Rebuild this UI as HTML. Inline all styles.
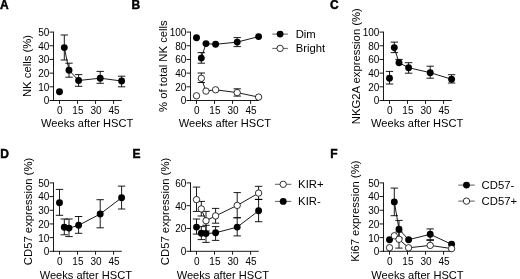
<!DOCTYPE html>
<html><head><meta charset="utf-8"><title>Figure</title>
<style>
html,body{margin:0;padding:0;background:#fff;}
svg{display:block;}
svg text{font-family:"Liberation Sans", Arial, sans-serif;fill:#000;}
</style></head>
<body>
<svg width="520" height="279" viewBox="0 0 520 279">
<defs><filter id="soft" x="0" y="0" width="520" height="279" filterUnits="userSpaceOnUse"><feGaussianBlur stdDeviation="0.35"/></filter></defs>
<rect width="520" height="279" fill="#fff"/>
<g filter="url(#soft)">
<text x="0.00" y="8.60" font-size="12" font-weight="bold" stroke="#000" stroke-width="0.45">A</text>
<line x1="53.50" y1="31.65" x2="53.50" y2="100.95" stroke="#000" stroke-width="0.9"/>
<line x1="53.05" y1="100.50" x2="121.80" y2="100.50" stroke="#000" stroke-width="0.9"/>
<line x1="49.50" y1="100.50" x2="53.50" y2="100.50" stroke="#000" stroke-width="0.9"/>
<text x="49.40" y="104.40" font-size="10" text-anchor="end">0</text>
<line x1="49.50" y1="86.82" x2="53.50" y2="86.82" stroke="#000" stroke-width="0.9"/>
<text x="49.40" y="90.72" font-size="10" text-anchor="end">10</text>
<line x1="49.50" y1="73.14" x2="53.50" y2="73.14" stroke="#000" stroke-width="0.9"/>
<text x="49.40" y="77.04" font-size="10" text-anchor="end">20</text>
<line x1="49.50" y1="59.46" x2="53.50" y2="59.46" stroke="#000" stroke-width="0.9"/>
<text x="49.40" y="63.36" font-size="10" text-anchor="end">30</text>
<line x1="49.50" y1="45.78" x2="53.50" y2="45.78" stroke="#000" stroke-width="0.9"/>
<text x="49.40" y="49.68" font-size="10" text-anchor="end">40</text>
<line x1="49.50" y1="32.10" x2="53.50" y2="32.10" stroke="#000" stroke-width="0.9"/>
<text x="49.40" y="36.00" font-size="10" text-anchor="end">50</text>
<line x1="59.50" y1="100.50" x2="59.50" y2="103.90" stroke="#000" stroke-width="0.9"/>
<text x="59.90" y="113.90" font-size="10" text-anchor="middle">0</text>
<line x1="77.53" y1="100.50" x2="77.53" y2="103.90" stroke="#000" stroke-width="0.9"/>
<text x="77.93" y="113.90" font-size="10" text-anchor="middle">15</text>
<line x1="95.56" y1="100.50" x2="95.56" y2="103.90" stroke="#000" stroke-width="0.9"/>
<text x="95.96" y="113.90" font-size="10" text-anchor="middle">30</text>
<line x1="113.59" y1="100.50" x2="113.59" y2="103.90" stroke="#000" stroke-width="0.9"/>
<text x="113.99" y="113.90" font-size="10" text-anchor="middle">45</text>
<text x="87.15" y="126.50" font-size="11.1" text-anchor="middle">Weeks after HSCT</text>
<text transform="translate(30.70,66.00) rotate(-90)" font-size="11.3" text-anchor="middle">NK cells (%)</text>
<line x1="64.30" y1="35.00" x2="64.30" y2="47.60" stroke="#000" stroke-width="0.9"/>
<line x1="60.60" y1="35.00" x2="68.00" y2="35.00" stroke="#000" stroke-width="0.9"/>
<line x1="64.30" y1="47.60" x2="64.30" y2="60.00" stroke="#000" stroke-width="0.9"/>
<line x1="60.60" y1="60.00" x2="68.00" y2="60.00" stroke="#000" stroke-width="0.9"/>
<line x1="69.00" y1="63.20" x2="69.00" y2="70.20" stroke="#000" stroke-width="0.9"/>
<line x1="65.30" y1="63.20" x2="72.70" y2="63.20" stroke="#000" stroke-width="0.9"/>
<line x1="69.00" y1="70.20" x2="69.00" y2="77.20" stroke="#000" stroke-width="0.9"/>
<line x1="65.30" y1="77.20" x2="72.70" y2="77.20" stroke="#000" stroke-width="0.9"/>
<line x1="78.60" y1="74.60" x2="78.60" y2="80.50" stroke="#000" stroke-width="0.9"/>
<line x1="74.90" y1="74.60" x2="82.30" y2="74.60" stroke="#000" stroke-width="0.9"/>
<line x1="78.60" y1="80.50" x2="78.60" y2="86.30" stroke="#000" stroke-width="0.9"/>
<line x1="74.90" y1="86.30" x2="82.30" y2="86.30" stroke="#000" stroke-width="0.9"/>
<line x1="100.20" y1="71.40" x2="100.20" y2="78.20" stroke="#000" stroke-width="0.9"/>
<line x1="96.50" y1="71.40" x2="103.90" y2="71.40" stroke="#000" stroke-width="0.9"/>
<line x1="100.20" y1="78.20" x2="100.20" y2="83.30" stroke="#000" stroke-width="0.9"/>
<line x1="96.50" y1="83.30" x2="103.90" y2="83.30" stroke="#000" stroke-width="0.9"/>
<line x1="121.60" y1="76.20" x2="121.60" y2="81.00" stroke="#000" stroke-width="0.9"/>
<line x1="117.90" y1="76.20" x2="125.30" y2="76.20" stroke="#000" stroke-width="0.9"/>
<line x1="121.60" y1="81.00" x2="121.60" y2="86.80" stroke="#000" stroke-width="0.9"/>
<line x1="117.90" y1="86.80" x2="125.30" y2="86.80" stroke="#000" stroke-width="0.9"/>
<polyline points="64.30,47.60 69.00,70.20 78.60,80.50 100.20,78.20 121.60,81.00" fill="none" stroke="#000" stroke-width="0.9"/>
<circle cx="59.50" cy="91.80" r="3.45" fill="#000"/>
<circle cx="64.30" cy="47.60" r="3.45" fill="#000"/>
<circle cx="69.00" cy="70.20" r="3.45" fill="#000"/>
<circle cx="78.60" cy="80.50" r="3.45" fill="#000"/>
<circle cx="100.20" cy="78.20" r="3.45" fill="#000"/>
<circle cx="121.60" cy="81.00" r="3.45" fill="#000"/>
<text x="131.60" y="8.60" font-size="12" font-weight="bold" stroke="#000" stroke-width="0.45">B</text>
<line x1="190.50" y1="31.65" x2="190.50" y2="100.95" stroke="#000" stroke-width="0.9"/>
<line x1="190.05" y1="100.50" x2="258.80" y2="100.50" stroke="#000" stroke-width="0.9"/>
<line x1="186.50" y1="100.50" x2="190.50" y2="100.50" stroke="#000" stroke-width="0.9"/>
<text x="186.40" y="104.40" font-size="10" text-anchor="end">0</text>
<line x1="186.50" y1="86.82" x2="190.50" y2="86.82" stroke="#000" stroke-width="0.9"/>
<text x="186.40" y="90.72" font-size="10" text-anchor="end">20</text>
<line x1="186.50" y1="73.14" x2="190.50" y2="73.14" stroke="#000" stroke-width="0.9"/>
<text x="186.40" y="77.04" font-size="10" text-anchor="end">40</text>
<line x1="186.50" y1="59.46" x2="190.50" y2="59.46" stroke="#000" stroke-width="0.9"/>
<text x="186.40" y="63.36" font-size="10" text-anchor="end">60</text>
<line x1="186.50" y1="45.78" x2="190.50" y2="45.78" stroke="#000" stroke-width="0.9"/>
<text x="186.40" y="49.68" font-size="10" text-anchor="end">80</text>
<line x1="186.50" y1="32.10" x2="190.50" y2="32.10" stroke="#000" stroke-width="0.9"/>
<text x="186.40" y="36.00" font-size="10" text-anchor="end">100</text>
<line x1="196.50" y1="100.50" x2="196.50" y2="103.90" stroke="#000" stroke-width="0.9"/>
<text x="196.90" y="113.90" font-size="10" text-anchor="middle">0</text>
<line x1="214.53" y1="100.50" x2="214.53" y2="103.90" stroke="#000" stroke-width="0.9"/>
<text x="214.93" y="113.90" font-size="10" text-anchor="middle">15</text>
<line x1="232.56" y1="100.50" x2="232.56" y2="103.90" stroke="#000" stroke-width="0.9"/>
<text x="232.96" y="113.90" font-size="10" text-anchor="middle">30</text>
<line x1="250.59" y1="100.50" x2="250.59" y2="103.90" stroke="#000" stroke-width="0.9"/>
<text x="250.99" y="113.90" font-size="10" text-anchor="middle">45</text>
<text x="224.85" y="126.70" font-size="11.1" text-anchor="middle">Weeks after HSCT</text>
<text transform="translate(167.30,66.10) rotate(-90)" font-size="11.3" text-anchor="middle">% of total NK cells</text>
<line x1="201.30" y1="52.60" x2="201.30" y2="58.10" stroke="#000" stroke-width="0.9"/>
<line x1="197.60" y1="52.60" x2="205.00" y2="52.60" stroke="#000" stroke-width="0.9"/>
<line x1="201.30" y1="58.10" x2="201.30" y2="63.20" stroke="#000" stroke-width="0.9"/>
<line x1="197.60" y1="63.20" x2="205.00" y2="63.20" stroke="#000" stroke-width="0.9"/>
<line x1="237.20" y1="37.60" x2="237.20" y2="42.10" stroke="#000" stroke-width="0.9"/>
<line x1="233.50" y1="37.60" x2="240.90" y2="37.60" stroke="#000" stroke-width="0.9"/>
<line x1="237.20" y1="42.10" x2="237.20" y2="46.60" stroke="#000" stroke-width="0.9"/>
<line x1="233.50" y1="46.60" x2="240.90" y2="46.60" stroke="#000" stroke-width="0.9"/>
<polyline points="201.30,58.10 206.00,43.60 215.60,44.30 237.20,42.10 258.60,36.60" fill="none" stroke="#000" stroke-width="0.9"/>
<circle cx="196.50" cy="37.80" r="3.45" fill="#000"/>
<circle cx="201.30" cy="58.10" r="3.45" fill="#000"/>
<circle cx="206.00" cy="43.60" r="3.45" fill="#000"/>
<circle cx="215.60" cy="44.30" r="3.45" fill="#000"/>
<circle cx="237.20" cy="42.10" r="3.45" fill="#000"/>
<circle cx="258.60" cy="36.60" r="3.45" fill="#000"/>
<line x1="201.30" y1="73.00" x2="201.30" y2="78.30" stroke="#000" stroke-width="0.9"/>
<line x1="197.60" y1="73.00" x2="205.00" y2="73.00" stroke="#000" stroke-width="0.9"/>
<line x1="201.30" y1="78.30" x2="201.30" y2="82.50" stroke="#000" stroke-width="0.9"/>
<line x1="197.60" y1="82.50" x2="205.00" y2="82.50" stroke="#000" stroke-width="0.9"/>
<line x1="237.20" y1="88.80" x2="237.20" y2="92.60" stroke="#000" stroke-width="0.9"/>
<line x1="233.50" y1="88.80" x2="240.90" y2="88.80" stroke="#000" stroke-width="0.9"/>
<line x1="237.20" y1="92.60" x2="237.20" y2="96.10" stroke="#000" stroke-width="0.9"/>
<line x1="233.50" y1="96.10" x2="240.90" y2="96.10" stroke="#000" stroke-width="0.9"/>
<polyline points="201.30,78.30 206.00,91.10 215.60,89.80 237.20,92.60 258.60,97.10" fill="none" stroke="#000" stroke-width="0.9"/>
<circle cx="196.50" cy="95.80" r="3.20" fill="#fff" stroke="#000" stroke-width="0.8"/>
<circle cx="201.30" cy="78.30" r="3.20" fill="#fff" stroke="#000" stroke-width="0.8"/>
<circle cx="206.00" cy="91.10" r="3.20" fill="#fff" stroke="#000" stroke-width="0.8"/>
<circle cx="215.60" cy="89.80" r="3.20" fill="#fff" stroke="#000" stroke-width="0.8"/>
<circle cx="237.20" cy="92.60" r="3.20" fill="#fff" stroke="#000" stroke-width="0.8"/>
<circle cx="258.60" cy="97.10" r="3.20" fill="#fff" stroke="#000" stroke-width="0.8"/>
<line x1="272.30" y1="34.10" x2="287.90" y2="34.10" stroke="#333" stroke-width="0.8"/>
<circle cx="280.10" cy="34.10" r="3.45" fill="#000"/>
<text x="295.70" y="38.10" font-size="11.3">Dim</text>
<line x1="272.30" y1="48.40" x2="287.90" y2="48.40" stroke="#333" stroke-width="0.8"/>
<circle cx="280.10" cy="48.40" r="3.20" fill="#fff" stroke="#000" stroke-width="0.8"/>
<text x="295.70" y="52.40" font-size="11.3">Bright</text>
<text x="330.00" y="8.60" font-size="12" font-weight="bold" stroke="#000" stroke-width="0.45">C</text>
<line x1="383.50" y1="31.65" x2="383.50" y2="100.95" stroke="#000" stroke-width="0.9"/>
<line x1="383.05" y1="100.50" x2="451.80" y2="100.50" stroke="#000" stroke-width="0.9"/>
<line x1="379.50" y1="100.50" x2="383.50" y2="100.50" stroke="#000" stroke-width="0.9"/>
<text x="379.40" y="104.40" font-size="10" text-anchor="end">0</text>
<line x1="379.50" y1="86.82" x2="383.50" y2="86.82" stroke="#000" stroke-width="0.9"/>
<text x="379.40" y="90.72" font-size="10" text-anchor="end">20</text>
<line x1="379.50" y1="73.14" x2="383.50" y2="73.14" stroke="#000" stroke-width="0.9"/>
<text x="379.40" y="77.04" font-size="10" text-anchor="end">40</text>
<line x1="379.50" y1="59.46" x2="383.50" y2="59.46" stroke="#000" stroke-width="0.9"/>
<text x="379.40" y="63.36" font-size="10" text-anchor="end">60</text>
<line x1="379.50" y1="45.78" x2="383.50" y2="45.78" stroke="#000" stroke-width="0.9"/>
<text x="379.40" y="49.68" font-size="10" text-anchor="end">80</text>
<line x1="379.50" y1="32.10" x2="383.50" y2="32.10" stroke="#000" stroke-width="0.9"/>
<text x="379.40" y="36.00" font-size="10" text-anchor="end">100</text>
<line x1="389.50" y1="100.50" x2="389.50" y2="103.90" stroke="#000" stroke-width="0.9"/>
<text x="389.90" y="113.90" font-size="10" text-anchor="middle">0</text>
<line x1="407.53" y1="100.50" x2="407.53" y2="103.90" stroke="#000" stroke-width="0.9"/>
<text x="407.93" y="113.90" font-size="10" text-anchor="middle">15</text>
<line x1="425.56" y1="100.50" x2="425.56" y2="103.90" stroke="#000" stroke-width="0.9"/>
<text x="425.96" y="113.90" font-size="10" text-anchor="middle">30</text>
<line x1="443.59" y1="100.50" x2="443.59" y2="103.90" stroke="#000" stroke-width="0.9"/>
<text x="443.99" y="113.90" font-size="10" text-anchor="middle">45</text>
<text x="417.15" y="126.50" font-size="11.1" text-anchor="middle">Weeks after HSCT</text>
<text transform="translate(360.00,66.20) rotate(-90)" font-size="11.3" text-anchor="middle">NKG2A expression (%)</text>
<line x1="389.50" y1="71.40" x2="389.50" y2="78.20" stroke="#000" stroke-width="0.9"/>
<line x1="385.80" y1="71.40" x2="393.20" y2="71.40" stroke="#000" stroke-width="0.9"/>
<line x1="389.50" y1="78.20" x2="389.50" y2="84.00" stroke="#000" stroke-width="0.9"/>
<line x1="385.80" y1="84.00" x2="393.20" y2="84.00" stroke="#000" stroke-width="0.9"/>
<line x1="394.30" y1="42.10" x2="394.30" y2="47.60" stroke="#000" stroke-width="0.9"/>
<line x1="390.60" y1="42.10" x2="398.00" y2="42.10" stroke="#000" stroke-width="0.9"/>
<line x1="394.30" y1="47.60" x2="394.30" y2="52.60" stroke="#000" stroke-width="0.9"/>
<line x1="390.60" y1="52.60" x2="398.00" y2="52.60" stroke="#000" stroke-width="0.9"/>
<line x1="399.00" y1="59.40" x2="399.00" y2="62.70" stroke="#000" stroke-width="0.9"/>
<line x1="395.30" y1="59.40" x2="402.70" y2="59.40" stroke="#000" stroke-width="0.9"/>
<line x1="408.60" y1="62.70" x2="408.60" y2="67.70" stroke="#000" stroke-width="0.9"/>
<line x1="404.90" y1="62.70" x2="412.30" y2="62.70" stroke="#000" stroke-width="0.9"/>
<line x1="408.60" y1="67.70" x2="408.60" y2="73.20" stroke="#000" stroke-width="0.9"/>
<line x1="404.90" y1="73.20" x2="412.30" y2="73.20" stroke="#000" stroke-width="0.9"/>
<line x1="430.20" y1="66.20" x2="430.20" y2="72.70" stroke="#000" stroke-width="0.9"/>
<line x1="426.50" y1="66.20" x2="433.90" y2="66.20" stroke="#000" stroke-width="0.9"/>
<line x1="430.20" y1="72.70" x2="430.20" y2="78.20" stroke="#000" stroke-width="0.9"/>
<line x1="426.50" y1="78.20" x2="433.90" y2="78.20" stroke="#000" stroke-width="0.9"/>
<line x1="451.60" y1="74.70" x2="451.60" y2="79.20" stroke="#000" stroke-width="0.9"/>
<line x1="447.90" y1="74.70" x2="455.30" y2="74.70" stroke="#000" stroke-width="0.9"/>
<line x1="451.60" y1="79.20" x2="451.60" y2="83.00" stroke="#000" stroke-width="0.9"/>
<line x1="447.90" y1="83.00" x2="455.30" y2="83.00" stroke="#000" stroke-width="0.9"/>
<polyline points="394.30,47.60 399.00,62.70 408.60,67.70 430.20,72.70 451.60,79.20" fill="none" stroke="#000" stroke-width="0.9"/>
<circle cx="389.50" cy="78.20" r="3.45" fill="#000"/>
<circle cx="394.30" cy="47.60" r="3.45" fill="#000"/>
<circle cx="399.00" cy="62.70" r="3.45" fill="#000"/>
<circle cx="408.60" cy="67.70" r="3.45" fill="#000"/>
<circle cx="430.20" cy="72.70" r="3.45" fill="#000"/>
<circle cx="451.60" cy="79.20" r="3.45" fill="#000"/>
<text x="0.30" y="158.00" font-size="12" font-weight="bold" stroke="#000" stroke-width="0.45">D</text>
<line x1="53.50" y1="182.45" x2="53.50" y2="251.75" stroke="#000" stroke-width="0.9"/>
<line x1="53.05" y1="251.30" x2="121.80" y2="251.30" stroke="#000" stroke-width="0.9"/>
<line x1="49.50" y1="251.30" x2="53.50" y2="251.30" stroke="#000" stroke-width="0.9"/>
<text x="49.40" y="255.20" font-size="10" text-anchor="end">0</text>
<line x1="49.50" y1="237.62" x2="53.50" y2="237.62" stroke="#000" stroke-width="0.9"/>
<text x="49.40" y="241.52" font-size="10" text-anchor="end">10</text>
<line x1="49.50" y1="223.94" x2="53.50" y2="223.94" stroke="#000" stroke-width="0.9"/>
<text x="49.40" y="227.84" font-size="10" text-anchor="end">20</text>
<line x1="49.50" y1="210.26" x2="53.50" y2="210.26" stroke="#000" stroke-width="0.9"/>
<text x="49.40" y="214.16" font-size="10" text-anchor="end">30</text>
<line x1="49.50" y1="196.58" x2="53.50" y2="196.58" stroke="#000" stroke-width="0.9"/>
<text x="49.40" y="200.48" font-size="10" text-anchor="end">40</text>
<line x1="49.50" y1="182.90" x2="53.50" y2="182.90" stroke="#000" stroke-width="0.9"/>
<text x="49.40" y="186.80" font-size="10" text-anchor="end">50</text>
<line x1="59.50" y1="251.30" x2="59.50" y2="254.70" stroke="#000" stroke-width="0.9"/>
<text x="59.90" y="264.70" font-size="10" text-anchor="middle">0</text>
<line x1="77.53" y1="251.30" x2="77.53" y2="254.70" stroke="#000" stroke-width="0.9"/>
<text x="77.93" y="264.70" font-size="10" text-anchor="middle">15</text>
<line x1="95.56" y1="251.30" x2="95.56" y2="254.70" stroke="#000" stroke-width="0.9"/>
<text x="95.96" y="264.70" font-size="10" text-anchor="middle">30</text>
<line x1="113.59" y1="251.30" x2="113.59" y2="254.70" stroke="#000" stroke-width="0.9"/>
<text x="113.99" y="264.70" font-size="10" text-anchor="middle">45</text>
<text x="85.80" y="278.90" font-size="11.1" text-anchor="middle">Weeks after HSCT</text>
<text transform="translate(31.80,211.50) rotate(-90)" font-size="11.3" text-anchor="middle">CD57 expression (%)</text>
<line x1="59.50" y1="189.40" x2="59.50" y2="202.70" stroke="#000" stroke-width="0.9"/>
<line x1="55.80" y1="189.40" x2="63.20" y2="189.40" stroke="#000" stroke-width="0.9"/>
<line x1="59.50" y1="202.70" x2="59.50" y2="215.30" stroke="#000" stroke-width="0.9"/>
<line x1="55.80" y1="215.30" x2="63.20" y2="215.30" stroke="#000" stroke-width="0.9"/>
<line x1="64.30" y1="219.00" x2="64.30" y2="227.30" stroke="#000" stroke-width="0.9"/>
<line x1="60.60" y1="219.00" x2="68.00" y2="219.00" stroke="#000" stroke-width="0.9"/>
<line x1="64.30" y1="227.30" x2="64.30" y2="234.80" stroke="#000" stroke-width="0.9"/>
<line x1="60.60" y1="234.80" x2="68.00" y2="234.80" stroke="#000" stroke-width="0.9"/>
<line x1="69.00" y1="219.00" x2="69.00" y2="228.10" stroke="#000" stroke-width="0.9"/>
<line x1="65.30" y1="219.00" x2="72.70" y2="219.00" stroke="#000" stroke-width="0.9"/>
<line x1="69.00" y1="228.10" x2="69.00" y2="236.60" stroke="#000" stroke-width="0.9"/>
<line x1="65.30" y1="236.60" x2="72.70" y2="236.60" stroke="#000" stroke-width="0.9"/>
<line x1="78.60" y1="216.50" x2="78.60" y2="225.30" stroke="#000" stroke-width="0.9"/>
<line x1="74.90" y1="216.50" x2="82.30" y2="216.50" stroke="#000" stroke-width="0.9"/>
<line x1="78.60" y1="225.30" x2="78.60" y2="233.30" stroke="#000" stroke-width="0.9"/>
<line x1="74.90" y1="233.30" x2="82.30" y2="233.30" stroke="#000" stroke-width="0.9"/>
<line x1="100.20" y1="199.70" x2="100.20" y2="214.00" stroke="#000" stroke-width="0.9"/>
<line x1="96.50" y1="199.70" x2="103.90" y2="199.70" stroke="#000" stroke-width="0.9"/>
<line x1="100.20" y1="214.00" x2="100.20" y2="227.80" stroke="#000" stroke-width="0.9"/>
<line x1="96.50" y1="227.80" x2="103.90" y2="227.80" stroke="#000" stroke-width="0.9"/>
<line x1="121.60" y1="186.10" x2="121.60" y2="197.70" stroke="#000" stroke-width="0.9"/>
<line x1="117.90" y1="186.10" x2="125.30" y2="186.10" stroke="#000" stroke-width="0.9"/>
<line x1="121.60" y1="197.70" x2="121.60" y2="209.00" stroke="#000" stroke-width="0.9"/>
<line x1="117.90" y1="209.00" x2="125.30" y2="209.00" stroke="#000" stroke-width="0.9"/>
<polyline points="64.30,227.30 69.00,228.10 78.60,225.30 100.20,214.00 121.60,197.70" fill="none" stroke="#000" stroke-width="0.9"/>
<circle cx="59.50" cy="202.70" r="3.45" fill="#000"/>
<circle cx="64.30" cy="227.30" r="3.45" fill="#000"/>
<circle cx="69.00" cy="228.10" r="3.45" fill="#000"/>
<circle cx="78.60" cy="225.30" r="3.45" fill="#000"/>
<circle cx="100.20" cy="214.00" r="3.45" fill="#000"/>
<circle cx="121.60" cy="197.70" r="3.45" fill="#000"/>
<text x="132.60" y="158.00" font-size="12" font-weight="bold" stroke="#000" stroke-width="0.45">E</text>
<line x1="190.50" y1="182.45" x2="190.50" y2="251.75" stroke="#000" stroke-width="0.9"/>
<line x1="190.05" y1="251.30" x2="258.80" y2="251.30" stroke="#000" stroke-width="0.9"/>
<line x1="186.50" y1="251.30" x2="190.50" y2="251.30" stroke="#000" stroke-width="0.9"/>
<text x="186.40" y="255.20" font-size="10" text-anchor="end">0</text>
<line x1="186.50" y1="228.50" x2="190.50" y2="228.50" stroke="#000" stroke-width="0.9"/>
<text x="186.40" y="232.40" font-size="10" text-anchor="end">20</text>
<line x1="186.50" y1="205.70" x2="190.50" y2="205.70" stroke="#000" stroke-width="0.9"/>
<text x="186.40" y="209.60" font-size="10" text-anchor="end">40</text>
<line x1="186.50" y1="182.90" x2="190.50" y2="182.90" stroke="#000" stroke-width="0.9"/>
<text x="186.40" y="186.80" font-size="10" text-anchor="end">60</text>
<line x1="196.50" y1="251.30" x2="196.50" y2="254.70" stroke="#000" stroke-width="0.9"/>
<text x="196.90" y="264.70" font-size="10" text-anchor="middle">0</text>
<line x1="214.53" y1="251.30" x2="214.53" y2="254.70" stroke="#000" stroke-width="0.9"/>
<text x="214.93" y="264.70" font-size="10" text-anchor="middle">15</text>
<line x1="232.56" y1="251.30" x2="232.56" y2="254.70" stroke="#000" stroke-width="0.9"/>
<text x="232.96" y="264.70" font-size="10" text-anchor="middle">30</text>
<line x1="250.59" y1="251.30" x2="250.59" y2="254.70" stroke="#000" stroke-width="0.9"/>
<text x="250.99" y="264.70" font-size="10" text-anchor="middle">45</text>
<text x="222.80" y="278.90" font-size="11.1" text-anchor="middle">Weeks after HSCT</text>
<text transform="translate(169.20,211.50) rotate(-90)" font-size="11.3" text-anchor="middle">CD57 expression (%)</text>
<line x1="196.50" y1="219.00" x2="196.50" y2="227.10" stroke="#000" stroke-width="0.9"/>
<line x1="192.80" y1="219.00" x2="200.20" y2="219.00" stroke="#000" stroke-width="0.9"/>
<line x1="196.50" y1="227.10" x2="196.50" y2="234.10" stroke="#000" stroke-width="0.9"/>
<line x1="192.80" y1="234.10" x2="200.20" y2="234.10" stroke="#000" stroke-width="0.9"/>
<line x1="201.30" y1="226.60" x2="201.30" y2="233.30" stroke="#000" stroke-width="0.9"/>
<line x1="197.60" y1="226.60" x2="205.00" y2="226.60" stroke="#000" stroke-width="0.9"/>
<line x1="201.30" y1="233.30" x2="201.30" y2="239.60" stroke="#000" stroke-width="0.9"/>
<line x1="197.60" y1="239.60" x2="205.00" y2="239.60" stroke="#000" stroke-width="0.9"/>
<line x1="206.00" y1="225.30" x2="206.00" y2="233.60" stroke="#000" stroke-width="0.9"/>
<line x1="202.30" y1="225.30" x2="209.70" y2="225.30" stroke="#000" stroke-width="0.9"/>
<line x1="206.00" y1="233.60" x2="206.00" y2="242.40" stroke="#000" stroke-width="0.9"/>
<line x1="202.30" y1="242.40" x2="209.70" y2="242.40" stroke="#000" stroke-width="0.9"/>
<line x1="215.60" y1="226.60" x2="215.60" y2="232.80" stroke="#000" stroke-width="0.9"/>
<line x1="211.90" y1="226.60" x2="219.30" y2="226.60" stroke="#000" stroke-width="0.9"/>
<line x1="215.60" y1="232.80" x2="215.60" y2="240.40" stroke="#000" stroke-width="0.9"/>
<line x1="211.90" y1="240.40" x2="219.30" y2="240.40" stroke="#000" stroke-width="0.9"/>
<line x1="237.20" y1="217.80" x2="237.20" y2="227.10" stroke="#000" stroke-width="0.9"/>
<line x1="233.50" y1="217.80" x2="240.90" y2="217.80" stroke="#000" stroke-width="0.9"/>
<line x1="237.20" y1="227.10" x2="237.20" y2="235.90" stroke="#000" stroke-width="0.9"/>
<line x1="233.50" y1="235.90" x2="240.90" y2="235.90" stroke="#000" stroke-width="0.9"/>
<line x1="258.60" y1="199.40" x2="258.60" y2="210.80" stroke="#000" stroke-width="0.9"/>
<line x1="254.90" y1="199.40" x2="262.30" y2="199.40" stroke="#000" stroke-width="0.9"/>
<line x1="258.60" y1="210.80" x2="258.60" y2="221.70" stroke="#000" stroke-width="0.9"/>
<line x1="254.90" y1="221.70" x2="262.30" y2="221.70" stroke="#000" stroke-width="0.9"/>
<polyline points="201.30,233.30 206.00,233.60 215.60,232.80 237.20,227.10 258.60,210.80" fill="none" stroke="#000" stroke-width="0.9"/>
<circle cx="196.50" cy="227.10" r="3.45" fill="#000"/>
<circle cx="201.30" cy="233.30" r="3.45" fill="#000"/>
<circle cx="206.00" cy="233.60" r="3.45" fill="#000"/>
<circle cx="215.60" cy="232.80" r="3.45" fill="#000"/>
<circle cx="237.20" cy="227.10" r="3.45" fill="#000"/>
<circle cx="258.60" cy="210.80" r="3.45" fill="#000"/>
<line x1="196.50" y1="187.10" x2="196.50" y2="199.60" stroke="#000" stroke-width="0.9"/>
<line x1="192.80" y1="187.10" x2="200.20" y2="187.10" stroke="#000" stroke-width="0.9"/>
<line x1="196.50" y1="199.60" x2="196.50" y2="211.40" stroke="#000" stroke-width="0.9"/>
<line x1="192.80" y1="211.40" x2="200.20" y2="211.40" stroke="#000" stroke-width="0.9"/>
<line x1="201.30" y1="201.40" x2="201.30" y2="208.90" stroke="#000" stroke-width="0.9"/>
<line x1="197.60" y1="201.40" x2="205.00" y2="201.40" stroke="#000" stroke-width="0.9"/>
<line x1="201.30" y1="208.90" x2="201.30" y2="216.00" stroke="#000" stroke-width="0.9"/>
<line x1="197.60" y1="216.00" x2="205.00" y2="216.00" stroke="#000" stroke-width="0.9"/>
<line x1="206.00" y1="211.40" x2="206.00" y2="220.70" stroke="#000" stroke-width="0.9"/>
<line x1="202.30" y1="211.40" x2="209.70" y2="211.40" stroke="#000" stroke-width="0.9"/>
<line x1="206.00" y1="220.70" x2="206.00" y2="231.00" stroke="#000" stroke-width="0.9"/>
<line x1="202.30" y1="231.00" x2="209.70" y2="231.00" stroke="#000" stroke-width="0.9"/>
<line x1="215.60" y1="208.40" x2="215.60" y2="215.90" stroke="#000" stroke-width="0.9"/>
<line x1="211.90" y1="208.40" x2="219.30" y2="208.40" stroke="#000" stroke-width="0.9"/>
<line x1="215.60" y1="215.90" x2="215.60" y2="223.20" stroke="#000" stroke-width="0.9"/>
<line x1="211.90" y1="223.20" x2="219.30" y2="223.20" stroke="#000" stroke-width="0.9"/>
<line x1="237.20" y1="192.60" x2="237.20" y2="205.40" stroke="#000" stroke-width="0.9"/>
<line x1="233.50" y1="192.60" x2="240.90" y2="192.60" stroke="#000" stroke-width="0.9"/>
<line x1="237.20" y1="205.40" x2="237.20" y2="217.70" stroke="#000" stroke-width="0.9"/>
<line x1="233.50" y1="217.70" x2="240.90" y2="217.70" stroke="#000" stroke-width="0.9"/>
<line x1="258.60" y1="186.30" x2="258.60" y2="193.10" stroke="#000" stroke-width="0.9"/>
<line x1="254.90" y1="186.30" x2="262.30" y2="186.30" stroke="#000" stroke-width="0.9"/>
<line x1="258.60" y1="193.10" x2="258.60" y2="199.40" stroke="#000" stroke-width="0.9"/>
<line x1="254.90" y1="199.40" x2="262.30" y2="199.40" stroke="#000" stroke-width="0.9"/>
<polyline points="201.30,208.90 206.00,220.70 215.60,215.90 237.20,205.40 258.60,193.10" fill="none" stroke="#000" stroke-width="0.9"/>
<circle cx="196.50" cy="199.60" r="3.20" fill="#fff" stroke="#000" stroke-width="0.8"/>
<circle cx="201.30" cy="208.90" r="3.20" fill="#fff" stroke="#000" stroke-width="0.8"/>
<circle cx="206.00" cy="220.70" r="3.20" fill="#fff" stroke="#000" stroke-width="0.8"/>
<circle cx="215.60" cy="215.90" r="3.20" fill="#fff" stroke="#000" stroke-width="0.8"/>
<circle cx="237.20" cy="205.40" r="3.20" fill="#fff" stroke="#000" stroke-width="0.8"/>
<circle cx="258.60" cy="193.10" r="3.20" fill="#fff" stroke="#000" stroke-width="0.8"/>
<line x1="275.10" y1="184.30" x2="291.30" y2="184.30" stroke="#333" stroke-width="0.8"/>
<circle cx="283.20" cy="184.30" r="3.20" fill="#fff" stroke="#000" stroke-width="0.8"/>
<text x="298.10" y="188.30" font-size="11.3">KIR+</text>
<line x1="275.10" y1="201.40" x2="291.30" y2="201.40" stroke="#333" stroke-width="0.8"/>
<circle cx="283.20" cy="201.40" r="3.45" fill="#000"/>
<text x="298.10" y="205.40" font-size="11.3">KIR-</text>
<text x="330.30" y="158.00" font-size="12" font-weight="bold" stroke="#000" stroke-width="0.45">F</text>
<line x1="383.50" y1="182.45" x2="383.50" y2="251.75" stroke="#000" stroke-width="0.9"/>
<line x1="383.05" y1="251.30" x2="451.80" y2="251.30" stroke="#000" stroke-width="0.9"/>
<line x1="379.50" y1="251.30" x2="383.50" y2="251.30" stroke="#000" stroke-width="0.9"/>
<text x="379.40" y="255.20" font-size="10" text-anchor="end">0</text>
<line x1="379.50" y1="237.62" x2="383.50" y2="237.62" stroke="#000" stroke-width="0.9"/>
<text x="379.40" y="241.52" font-size="10" text-anchor="end">10</text>
<line x1="379.50" y1="223.94" x2="383.50" y2="223.94" stroke="#000" stroke-width="0.9"/>
<text x="379.40" y="227.84" font-size="10" text-anchor="end">20</text>
<line x1="379.50" y1="210.26" x2="383.50" y2="210.26" stroke="#000" stroke-width="0.9"/>
<text x="379.40" y="214.16" font-size="10" text-anchor="end">30</text>
<line x1="379.50" y1="196.58" x2="383.50" y2="196.58" stroke="#000" stroke-width="0.9"/>
<text x="379.40" y="200.48" font-size="10" text-anchor="end">40</text>
<line x1="379.50" y1="182.90" x2="383.50" y2="182.90" stroke="#000" stroke-width="0.9"/>
<text x="379.40" y="186.80" font-size="10" text-anchor="end">50</text>
<line x1="389.50" y1="251.30" x2="389.50" y2="254.70" stroke="#000" stroke-width="0.9"/>
<text x="389.90" y="264.70" font-size="10" text-anchor="middle">0</text>
<line x1="407.53" y1="251.30" x2="407.53" y2="254.70" stroke="#000" stroke-width="0.9"/>
<text x="407.93" y="264.70" font-size="10" text-anchor="middle">15</text>
<line x1="425.56" y1="251.30" x2="425.56" y2="254.70" stroke="#000" stroke-width="0.9"/>
<text x="425.96" y="264.70" font-size="10" text-anchor="middle">30</text>
<line x1="443.59" y1="251.30" x2="443.59" y2="254.70" stroke="#000" stroke-width="0.9"/>
<text x="443.99" y="264.70" font-size="10" text-anchor="middle">45</text>
<text x="417.45" y="278.90" font-size="11.1" text-anchor="middle">Weeks after HSCT</text>
<text transform="translate(359.30,211.10) rotate(-90)" font-size="11.3" text-anchor="middle">Ki67 expression (%)</text>
<line x1="394.30" y1="188.10" x2="394.30" y2="201.90" stroke="#000" stroke-width="0.9"/>
<line x1="390.60" y1="188.10" x2="398.00" y2="188.10" stroke="#000" stroke-width="0.9"/>
<line x1="394.30" y1="201.90" x2="394.30" y2="215.70" stroke="#000" stroke-width="0.9"/>
<line x1="390.60" y1="215.70" x2="398.00" y2="215.70" stroke="#000" stroke-width="0.9"/>
<line x1="399.00" y1="220.40" x2="399.00" y2="229.30" stroke="#000" stroke-width="0.9"/>
<line x1="395.30" y1="220.40" x2="402.70" y2="220.40" stroke="#000" stroke-width="0.9"/>
<line x1="399.00" y1="229.30" x2="399.00" y2="238.00" stroke="#000" stroke-width="0.9"/>
<line x1="395.30" y1="238.00" x2="402.70" y2="238.00" stroke="#000" stroke-width="0.9"/>
<line x1="430.20" y1="228.90" x2="430.20" y2="234.30" stroke="#000" stroke-width="0.9"/>
<line x1="426.50" y1="228.90" x2="433.90" y2="228.90" stroke="#000" stroke-width="0.9"/>
<line x1="430.20" y1="234.30" x2="430.20" y2="239.70" stroke="#000" stroke-width="0.9"/>
<line x1="426.50" y1="239.70" x2="433.90" y2="239.70" stroke="#000" stroke-width="0.9"/>
<polyline points="394.30,201.90 399.00,229.30 408.60,239.70 430.20,234.30 451.60,244.30" fill="none" stroke="#000" stroke-width="0.9"/>
<circle cx="389.50" cy="239.70" r="3.45" fill="#000"/>
<circle cx="394.30" cy="201.90" r="3.45" fill="#000"/>
<circle cx="399.00" cy="229.30" r="3.45" fill="#000"/>
<circle cx="408.60" cy="239.70" r="3.45" fill="#000"/>
<circle cx="430.20" cy="234.30" r="3.45" fill="#000"/>
<circle cx="451.60" cy="244.30" r="3.45" fill="#000"/>
<line x1="399.00" y1="232.00" x2="399.00" y2="239.30" stroke="#000" stroke-width="0.9"/>
<line x1="395.30" y1="232.00" x2="402.70" y2="232.00" stroke="#000" stroke-width="0.9"/>
<line x1="399.00" y1="239.30" x2="399.00" y2="248.10" stroke="#000" stroke-width="0.9"/>
<line x1="395.30" y1="248.10" x2="402.70" y2="248.10" stroke="#000" stroke-width="0.9"/>
<line x1="430.20" y1="240.40" x2="430.20" y2="245.40" stroke="#000" stroke-width="0.9"/>
<line x1="426.50" y1="240.40" x2="433.90" y2="240.40" stroke="#000" stroke-width="0.9"/>
<polyline points="394.30,235.80 399.00,239.30 408.60,247.80 430.20,245.40 451.60,248.60" fill="none" stroke="#000" stroke-width="0.9"/>
<circle cx="389.50" cy="247.70" r="3.20" fill="#fff" stroke="#000" stroke-width="0.8"/>
<circle cx="394.30" cy="235.80" r="3.20" fill="#fff" stroke="#000" stroke-width="0.8"/>
<circle cx="399.00" cy="239.30" r="3.20" fill="#fff" stroke="#000" stroke-width="0.8"/>
<circle cx="408.60" cy="247.80" r="3.20" fill="#fff" stroke="#000" stroke-width="0.8"/>
<circle cx="430.20" cy="245.40" r="3.20" fill="#fff" stroke="#000" stroke-width="0.8"/>
<circle cx="451.60" cy="248.60" r="3.20" fill="#fff" stroke="#000" stroke-width="0.8"/>
<line x1="458.30" y1="185.10" x2="474.70" y2="185.10" stroke="#333" stroke-width="0.8"/>
<circle cx="466.50" cy="185.10" r="3.45" fill="#000"/>
<text x="481.60" y="189.10" font-size="11.3">CD57-</text>
<line x1="458.30" y1="201.10" x2="474.70" y2="201.10" stroke="#333" stroke-width="0.8"/>
<circle cx="466.50" cy="201.10" r="3.20" fill="#fff" stroke="#000" stroke-width="0.8"/>
<text x="481.60" y="205.10" font-size="11.3">CD57+</text>
</g>
</svg>
</body></html>
